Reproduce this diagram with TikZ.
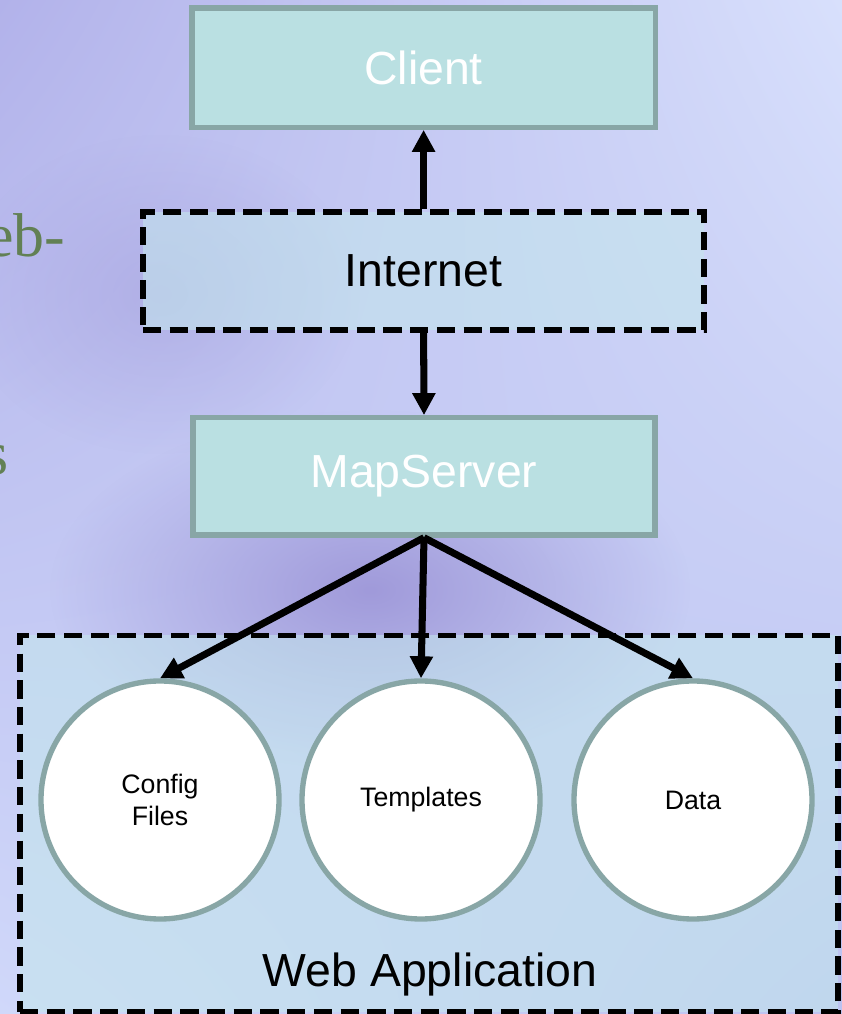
\documentclass[tikz,border=0pt]{standalone}
\usepackage{fontspec}
\setmainfont{Liberation Sans}
\newfontfamily\slidefont{Liberation Serif}
\usetikzlibrary{arrows.meta,fadings,shadings}

\definecolor{boxfill}{RGB}{186,224,226}
\definecolor{boxline}{RGB}{136,166,166}
\definecolor{netfill}{RGB}{196,232,236}
\definecolor{slidetext}{RGB}{98,128,84}
\definecolor{bgtl}{RGB}{178,178,234}
\definecolor{bgtr}{RGB}{216,224,252}
\definecolor{bgbl}{RGB}{208,216,250}
\definecolor{bgbr}{RGB}{188,194,240}
\definecolor{bgdark}{RGB}{160,154,218}
\tikzfading[name=blobfade,inner color=transparent!0,outer color=transparent!100]

\begin{document}
\begin{tikzpicture}[line width=5pt,
  compbox/.style={rectangle,draw=boxline,fill=boxfill,line width=3.8pt,minimum width=11.55cm,minimum height=2.93cm,text=white,font=\fontsize{33}{40}\selectfont},
  netbox/.style={rectangle,draw=black,fill=netfill,fill opacity=0.55,text opacity=1,line width=4pt,dash pattern=on 13pt off 6pt,font=\fontsize{33}{40}\selectfont},
  filenode/.style={circle,draw=boxline,fill=white,line width=3.8pt,minimum size=5.95cm,inner sep=0pt,align=center,font=\fontsize{19}{23}\selectfont},
  link/.style={-{Triangle[length=0.55cm,width=0.55cm]}}]

  \useasboundingbox (0,0) rectangle (21.05,25.35);
  % slide background
  \shade[upper left=bgtl,upper right=bgtr,lower left=bgbl,lower right=bgbr] (0,0) rectangle (21.05,25.35);
  \fill[bgdark,path fading=blobfade] (9.25,10.6) ellipse (8cm and 4.5cm);
  \fill[bgdark,path fading=blobfade,opacity=0.45] (4,18) ellipse (5cm and 4cm);

  \path
  (1.725,18.925) node[anchor=base east,text=slidetext,font=\slidefont\fontsize{44}{52}\selectfont,inner sep=0pt] (frag1) {eb-}
  (0.3,13.475) node[anchor=base east,text=slidetext,font=\slidefont\fontsize{44}{52}\selectfont,inner sep=0pt] (frag2) {s}

  (10.725,4.7625) node[netbox,minimum width=20.45cm,minimum height=9.4cm] (webapp) {}
  (10.75,0.975) node[font=\fontsize{33}{40}\selectfont] (webapplabel) {Web Application}

  (4.0,5.35) node[filenode] (config) {Config\\Files}
  (10.525,5.35) node[filenode] (templates) {Templates}
  (17.325,5.35) node[filenode] (data) {Data}

  (10.59,23.66) node[compbox,minimum width=11.58cm,minimum height=2.98cm] (client) {Client}
  (10.59,18.575) node[netbox,minimum width=14.03cm,minimum height=2.95cm] (internet) {Internet}
  (10.6,13.44) node[compbox] (mapserver) {MapServer}
  ;

  \draw[link] (internet.north) -- (client.south);
  \draw[link] (internet.south) -- (mapserver.north);
  \draw[link] (mapserver.south) -- (config.north);
  \draw[link] (mapserver.south) -- (templates.north);
  \draw[link] (mapserver.south) -- (data.north);
\end{tikzpicture}
\end{document}
